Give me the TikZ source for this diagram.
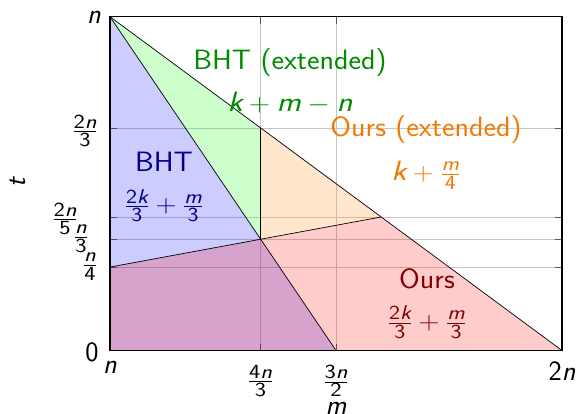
\documentclass[tikz,border=0pt]{standalone}
\usepackage{amsmath}
\usepackage{graphicx}
\renewcommand\familydefault{\sfdefault}
\DeclareMathSizes{28}{28}{20}{14}
\newcommand\mv[1]{\text{\sffamily\itshape #1}}
\newcommand\md[1]{\text{\sffamily #1}}
\newcommand\wide[1]{\scalebox{1.07}[1]{#1}}
\newcommand\wider[1]{\scalebox{1.17}[1]{#1}}
\newcommand\tfr[2]{\scalebox{1.2}[1]{$\frac{#1}{#2}$}}
\begin{document}
\begin{tikzpicture}[x=1pt,y=-1pt,
  every node/.style={inner sep=0pt,outer sep=0pt},
  font=\fontsize{28}{33}\selectfont\sffamily,
  gridline/.style={black!22,line width=0.6pt},
  tickmark/.style={black!65,line width=0.6pt},
  bound/.style={black,line width=0.7pt},
  lbl/.style={anchor=center},
  bhtext/.style={text=green!55!black},
  ourext/.style={text=orange!95!black},
  bhtc/.style={text=blue!55!black},
  ourc/.style={text=red!50!black}]
\useasboundingbox (0,0) rectangle (578,414);
\begin{scope}[x=452pt,y=333.8pt,shift={(-342pt,-350.5pt)}]
  \coordinate (A) at (1,1);
  \coordinate (B) at (1,0);
  \coordinate (C) at (1.5,0);
  \coordinate (D) at (2,0);
  \coordinate (E) at (1,0.25);
  \coordinate (F) at (4/3,1/3);
  \coordinate (G) at (4/3,2/3);
  \coordinate (H) at (1.6,0.4);
  \coordinate (TR) at (2,1);
  % grid
  \foreach \xx in {4/3,1.5} \draw[gridline] (\xx,0) -- (\xx,1);
  \foreach \yy in {2/3,0.4,1/3,0.25} \draw[gridline] (1,\yy) -- (2,\yy);
  % ticks
  \foreach \xx in {4/3,1.5} {
    \draw[tickmark] (\xx,0) -- ++(0,7pt);
    \draw[tickmark] (\xx,1) -- ++(0,-7pt);}
  \foreach \yy in {2/3,0.4,1/3,0.25} {
    \draw[tickmark] (1,\yy) -- ++(7pt,0);
    \draw[tickmark] (2,\yy) -- ++(-7pt,0);}
  % regions
  \fill[blue,opacity=0.2] (A) -- (C) -- (B) -- cycle;
  \fill[red,opacity=0.2] (B) -- (E) -- (H) -- (D) -- cycle;
  \fill[green,opacity=0.2] (A) -- (G) -- (F) -- cycle;
  \fill[orange,opacity=0.2] (G) -- (H) -- (F) -- cycle;
  % boundaries
  \draw[bound] (A) -- (D);
  \draw[bound] (A) -- (C);
  \draw[bound] (E) -- (H);
  \draw[bound] (G) -- (F);
  \draw[black,line width=1.1pt] (B) rectangle (TR);
\end{scope}
% region labels
\node[bhtext,anchor=base] (l1) at (290,70) {\wide{BHT (extended)}};
\node[bhtext,anchor=base] (l2) at (290,112) {\wider{$\mv{k}+\mv{m}-\mv{n}$}};
\node[ourext,anchor=base] (l3) at (426,137) {\wide{Ours (extended)}};
\node[ourext] (l4) at (426,175) {\wider{$\mv{k}+\frac{\mv{m}}{\md{4}}$}};
\node[bhtc,anchor=base] (l5) at (164,172) {\wide{BHT}};
\node[bhtc] (l6) at (164,205.5) {\wider{$\frac{\md{2}\mv{k}}{\md{3}}+\frac{\mv{m}}{\md{3}}$}};
\node[ourc,anchor=base] (l7) at (427,288) {\wide{Ours}};
\node[ourc] (l8) at (427,322) {\wider{$\frac{\md{2}\mv{k}}{\md{3}}+\frac{\mv{m}}{\md{3}}$}};
% tick labels
\node[lbl] (yn) at (94,17) {$\mv{n}$};
\node[lbl] (y23) at (85,131) {\tfr{\md{2}\mv{n}}{\md{3}}};
\node[lbl] (y25) at (65,219) {\tfr{\md{2}\mv{n}}{\md{5}}};
\node[lbl] (y13) at (81,239) {\tfr{\mv{n}}{\md{3}}};
\node[lbl] (y14) at (90,266.5) {\tfr{\mv{n}}{\md{4}}};
\node[lbl] (y0) at (92,352) {$\md{0}$};
\node[lbl] (xn) at (110,367) {$\mv{n}$};
\node[lbl] (x43) at (260.5,381) {\tfr{\md{4}\mv{n}}{\md{3}}};
\node[lbl] (x32) at (336,381) {\tfr{\md{3}\mv{n}}{\md{2}}};
\node[lbl] (x2n) at (562,371) {$\md{2}\mv{n}$};
\node[lbl] (xm) at (336,408) {$\mv{m}$};
\node[lbl,rotate=90] (yt) at (18,183) {$\mv{t}$};
\end{tikzpicture}
\end{document}
